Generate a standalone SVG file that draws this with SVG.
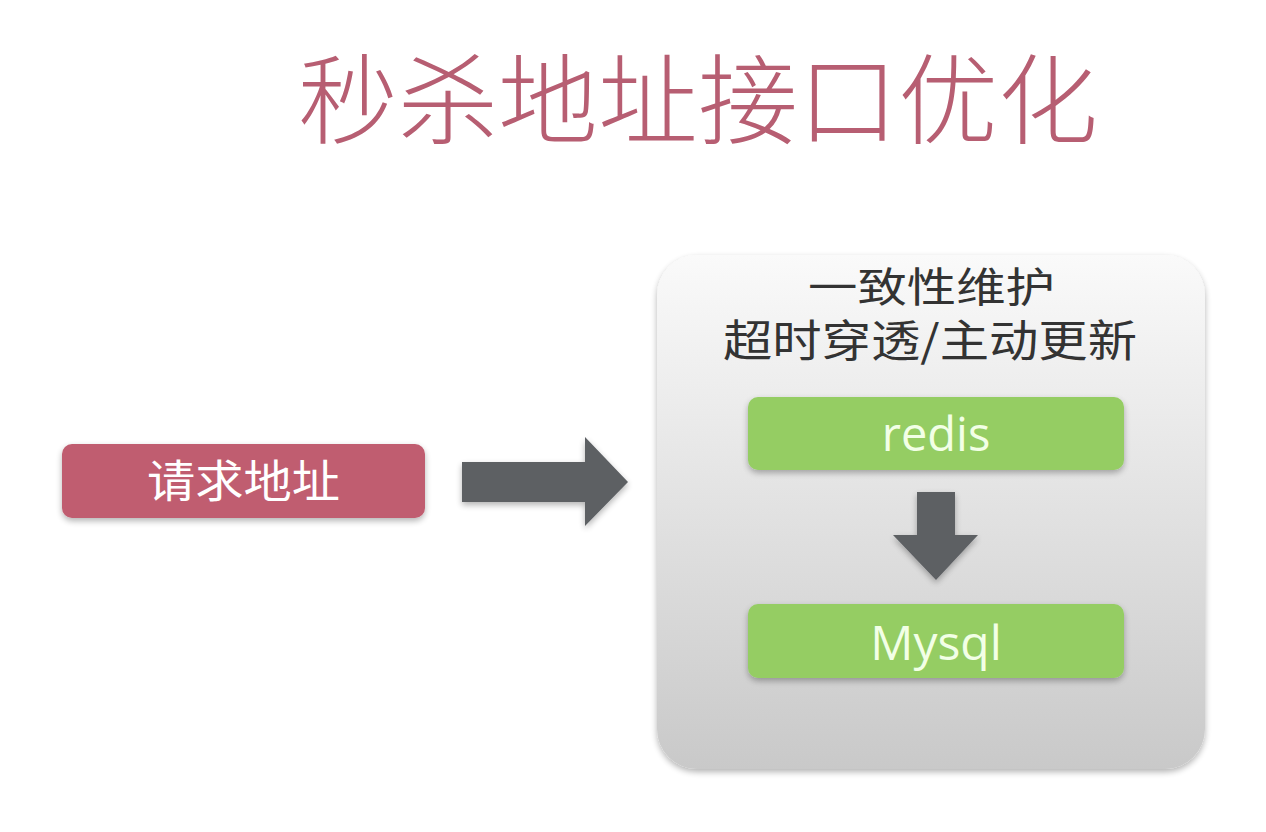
<svg xmlns="http://www.w3.org/2000/svg" width="1266" height="832" viewBox="0 0 1266 832">
<style>
.cjk{font-family:"Noto Sans CJK SC","Noto Sans",sans-serif;}
.lat{font-family:"Open Sans","Noto Sans",sans-serif;}
.green{fill:#95cd64;}
.arrow{fill:#5d6064;}
</style>
<defs>
<linearGradient id="bg" x1="0" y1="0" x2="0" y2="1">
<stop offset="0" stop-color="#fafafa"/>
<stop offset="1" stop-color="#c9c9c9"/>
</linearGradient>
<filter id="sh" x="-10%" y="-10%" width="120%" height="130%">
<feGaussianBlur in="SourceAlpha" stdDeviation="3"/>
<feOffset dx="0" dy="3" result="b"/>
<feComponentTransfer><feFuncA type="linear" slope="0.3"/></feComponentTransfer>
<feMerge><feMergeNode/><feMergeNode in="SourceGraphic"/></feMerge>
</filter>
</defs>
<rect width="1266" height="832" fill="#ffffff"/>
<g id="title">
<text x="298" y="136" class="cjk" font-size="98" font-weight="300" fill="#b75e72" textLength="800" lengthAdjust="spacingAndGlyphs">秒杀地址接口优化</text>
</g>
<g id="container">
<rect x="657" y="255" width="548" height="514" rx="40" fill="url(#bg)" filter="url(#sh)"/>
<text x="808" y="302" class="cjk" font-size="41" fill="#333333" textLength="247" lengthAdjust="spacingAndGlyphs">一致性维护</text>
<text x="723" y="357" class="cjk" font-size="44" fill="#333333" textLength="414" lengthAdjust="spacingAndGlyphs">超时穿透/主动更新</text>
</g>
<g id="request">
<rect x="62" y="444" width="363" height="74" rx="10" fill="#c05d6f" filter="url(#sh)"/>
<text x="147" y="498" class="cjk" font-size="45" fill="#ffffff" textLength="193" lengthAdjust="spacingAndGlyphs">请求地址</text>
</g>
<g id="redis">
<rect x="748" y="397" width="376" height="73" rx="10" class="green" filter="url(#sh)"/>
<text x="936" y="451" text-anchor="middle" class="lat" font-size="47" fill="#f2ffe6">redis</text>
</g>
<g id="mysql">
<rect x="748" y="604" width="376" height="74" rx="10" class="green" filter="url(#sh)"/>
<text x="936" y="660" text-anchor="middle" class="lat" font-size="48" fill="#f2ffe6">Mysql</text>
</g>
<g id="connectors">
<polygon class="arrow" points="462,462 585,462 585,437 628,482 585,526 585,502 462,502" filter="url(#sh)"/>
<polygon class="arrow" points="917,492 955,492 955,535 978,535 936,580 893,535 917,535" filter="url(#sh)"/>
</g>
</svg>
